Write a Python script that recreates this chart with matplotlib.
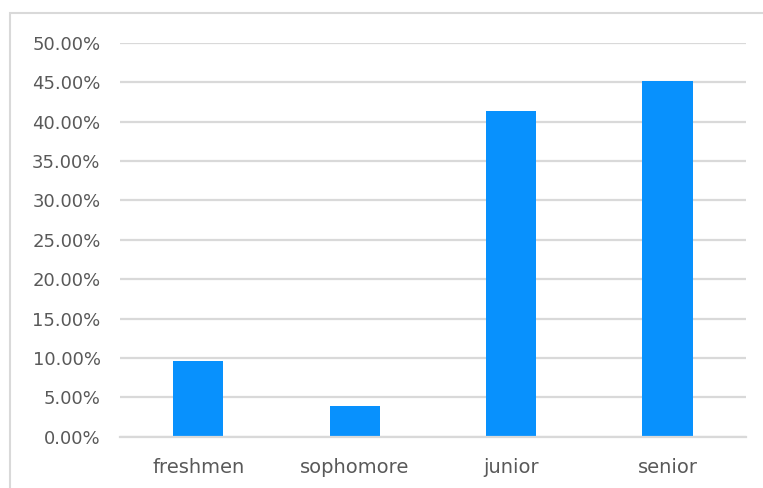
import matplotlib.pyplot as plt
from matplotlib.patches import Rectangle
from matplotlib.ticker import FuncFormatter

# Share of respondents by class year
categories = ['freshmen', 'sophomore', 'junior', 'senior']
shares = [0.0962, 0.0385, 0.4135, 0.4519]
y_ticks = [i * 0.05 for i in range(11)]

plt.rcParams['font.family'] = ['DejaVu Sans']
text_color = '#595959'
grid_color = '#d9d9d9'

W, H = 763, 488
fig = plt.figure(figsize=(W / 100, H / 100), dpi=100)

# chart frame, running off the right and bottom edges
fig.patches.append(Rectangle((10 / W, -0.2), 1.2, (H - 13) / H + 0.2, transform=fig.transFigure,
                             fill=False, edgecolor='#d9d9d9', linewidth=1.5))

ax = fig.add_axes([120 / W, (H - 436.7) / H, (745.7 - 120) / W, (436.7 - 43) / H])
x = range(len(categories))
ax.bar(x, shares, width=0.32, color='#0891fd')

ax.set_ylim(0, 0.5)
ax.set_xlim(-0.5, len(categories) - 0.5)
ax.set_yticks(y_ticks)
ax.yaxis.set_major_formatter(FuncFormatter(lambda v, _: f'{v * 100:.2f}%'))
ax.set_xticks(list(x))
ax.set_xticklabels(categories)

ax.grid(axis='y', color=grid_color, linewidth=1.6)
ax.set_axisbelow(True)
for side in ['top', 'right', 'left']:
    ax.spines[side].set_visible(False)
ax.spines['bottom'].set_color(grid_color)
ax.spines['bottom'].set_linewidth(1.6)
ax.tick_params(axis='both', length=0, colors=text_color)
ax.tick_params(axis='y', pad=14, labelsize=13)
ax.tick_params(axis='x', pad=15, labelsize=14)

fig.savefig('out.png', dpi=100)
